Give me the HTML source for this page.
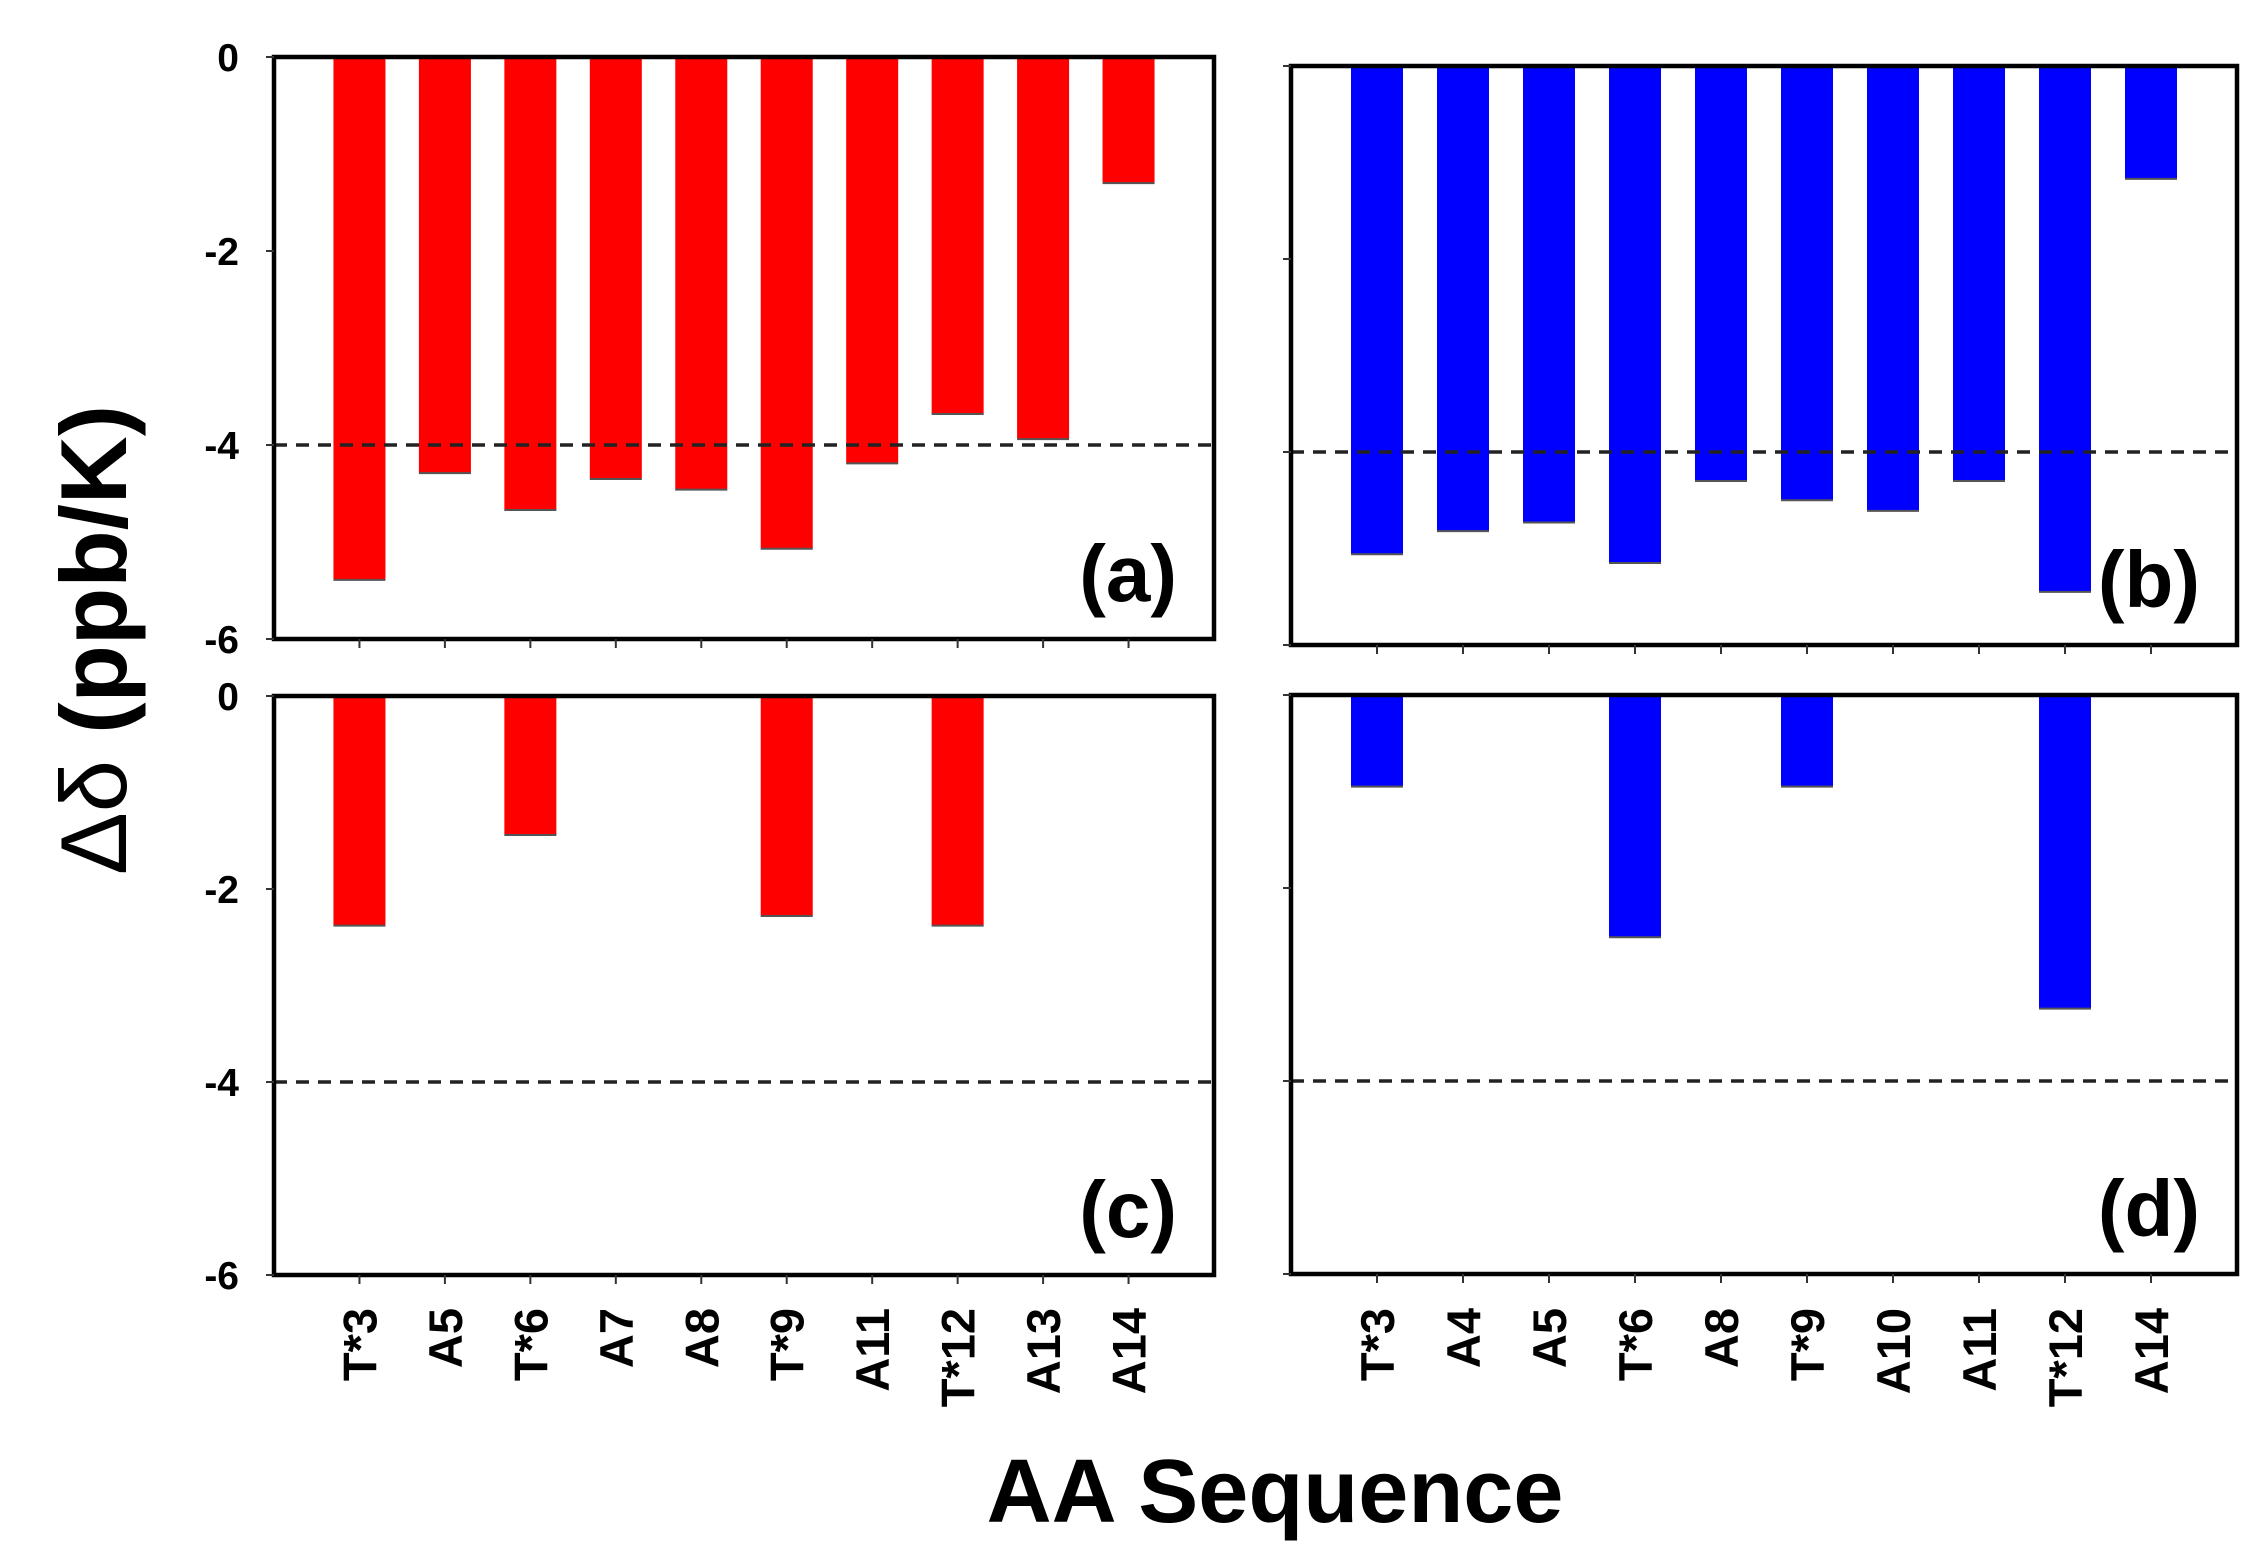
<!DOCTYPE html>
<html><head><meta charset="utf-8"><style>
html,body{margin:0;padding:0;background:#fff;}
svg{display:block;font-family:"Liberation Sans",Arial,sans-serif;}
</style></head><body>
<svg id="chart" width="2257" height="1556" viewBox="0 0 2257 1556" xmlns="http://www.w3.org/2000/svg">
<text transform="translate(126,640) rotate(-90)" text-anchor="middle" font-size="94" font-weight="bold"><tspan font-weight="normal">Δδ</tspan> (ppb/K)</text>
<text x="1275" y="1522" text-anchor="middle" font-size="90" font-weight="bold">AA Sequence</text>
</svg>
<script>
const catsLeft = ["T*3","A5","T*6","A7","A8","T*9","A11","T*12","A13","A14"];
const catsRight = ["T*3","A4","A5","T*6","A8","T*9","A10","A11","T*12","A14"];
const valuesA = [-5.39,-4.29,-4.67,-4.35,-4.46,-5.07,-4.19,-3.68,-3.94,-1.30];
const valuesB = [-5.06,-4.82,-4.73,-5.15,-4.30,-4.50,-4.61,-4.30,-5.45,-1.17];
const valuesC = [-2.38,0,-1.44,0,0,-2.28,0,-2.38,0,0];
const valuesD = [-0.95,0,0,-2.51,0,-0.95,0,0,-3.25,0];
const yTicks = [0,-2,-4,-6];
const yTickLabels = ["0","-2","-4","-6"];
const threshold = -4;
const yMin = -6, yMax = 0;

const NS = "http://www.w3.org/2000/svg";
const svg = document.getElementById("chart");
function mk(tag, attrs, parent){
  const e = document.createElementNS(NS, tag);
  for (const k in attrs) e.setAttribute(k, attrs[k]);
  (parent||svg).appendChild(e);
  return e;
}
const panels = [
  {id:"a", x0:274, x1:1214, y0:57, y1:639, vals:valuesA, cats:catsLeft, color:"#ff0000", labels:true, showX:false},
  {id:"b", x0:1291, x1:2237, y0:66, y1:645, vals:valuesB, cats:catsRight, color:"#0000ff", labels:false, showX:false},
  {id:"c", x0:274, x1:1214, y0:696, y1:1275, vals:valuesC, cats:catsLeft, color:"#ff0000", labels:true, showX:true},
  {id:"d", x0:1291, x1:2237, y0:695, y1:1274, vals:valuesD, cats:catsRight, color:"#0000ff", labels:false, showX:true}
];
panels.forEach(p=>{
  const g = mk("g", {});
  
  
  const n = p.cats.length;
  const xs = i => p.x0 + (i+1)*(p.x1-p.x0)/(n+1);
  const ys = v => p.y0 + (yMax - v)/(yMax - yMin)*(p.y1-p.y0);
  const bw = 52;
  p.vals.forEach((v,i)=>{
    if (v === 0) return;
    const y0 = ys(0), y1 = ys(v);
    const r = mk("rect", {x:xs(i)-bw/2, y:y0, width:bw, height:y1-y0, fill:p.color}, g);
    
    
    const eb = mk("line", {x1:xs(i)-bw/2, x2:xs(i)+bw/2, y1:y1, y2:y1, stroke:"#555", "stroke-width":2}, g);
    
    
  });
  const dl = mk("line", {x1:p.x0, x2:p.x1, y1:ys(threshold), y2:ys(threshold), stroke:"#222", "stroke-width":3.5, "stroke-dasharray":"13 9"}, g);
  
  
  const fr = mk("rect", {x:p.x0, y:p.y0, width:p.x1-p.x0, height:p.y1-p.y0, fill:"none", stroke:"#000", "stroke-width":4.5}, g);
  
  
  yTicks.forEach((t,k)=>{
    const tk = mk("line", {x1:p.x0-8, x2:p.x0, y1:ys(t), y2:ys(t), stroke:"#333", "stroke-width":2}, g);
    
    
    if (p.labels){
      const tl = mk("text", {x:239, y:ys(t)+14, "text-anchor":"end", "font-size":39, "font-weight":"bold"}, g);
      tl.textContent = yTickLabels[k];
      
      
    }
  });
  p.cats.forEach((c,i)=>{
    const tk = mk("line", {x1:xs(i), x2:xs(i), y1:p.y1, y2:p.y1+9, stroke:"#333", "stroke-width":2}, g);
    
    
    if (p.showX){
      const tl = mk("text", {transform:`translate(${xs(i)+17},1308) rotate(-90)`, "text-anchor":"end", "font-size":47, "font-weight":"bold"}, g);
      tl.textContent = c;
      
      
    }
  });
  const pl = mk("text", {x:p.x1-37, y:p.y1-38, "text-anchor":"end", "font-size":80, "font-weight":"bold"}, g);
  pl.textContent = "(" + p.id + ")";
  
  
});
</script>
</body></html>
